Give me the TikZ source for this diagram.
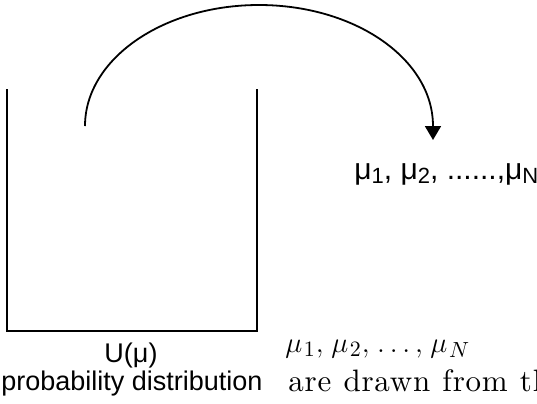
\documentclass[tikz,border=0pt]{standalone}
\usepackage{fontspec}
\newfontfamily\labelfont{Liberation Sans}
\newfontfamily\bookfont{lmroman10-regular.otf}[LetterSpace=2.5, WordSpace=1.1]
\usepackage{tikz}
\usetikzlibrary{arrows.meta, positioning}
\newcommand{\musub}[1]{μ\raisebox{-0.3ex}{\fontsize{11}{12}\selectfont #1}}
\newcommand{\mui}[1]{\mu_{\kern0.8pt #1}}
\tikzset{
  wall/.style={line width=1pt, line cap=butt},
  arr/.style={-{Triangle[length=7pt, width=8pt]}, line width=0.9pt},
  lbl/.style={font=\labelfont\fontsize{13.5}{15}\selectfont, inner sep=0pt},
  txt/.style={font=\bookfont\fontsize{15.5}{18}\selectfont, inner sep=0pt}
}
\begin{document}
\begin{tikzpicture}[x=0.5pt, y=-0.5pt]
  \useasboundingbox (0,0) rectangle (537,403);
  % the box
  \draw[wall] (7,89) -- (7,331) -- (257,331) -- (257,89);
  \coordinate (src) at (85,126);
  \coordinate (tip) at (433,140);
  \node[lbl, anchor=base west, font=\labelfont\fontsize{15}{17}\selectfont] (samples) at (354,179)
    {\musub{1}, \musub{2}, ......,\musub{N}};
  \draw[arr] (src) arc[start angle=180, end angle=360, x radius=174, y radius=121] -- (tip);
  % labels below
  \node[lbl, anchor=base] (dist) at (131,362) {U(μ)};
  \node[lbl, anchor=base] (distname) at (132,390) {probability distribution};
  \node[txt, anchor=base west] (mulist) at (285,352)
    {$\mui{1},\kern1.4pt \mui{2},\kern1.4pt \ldots,\kern1.4pt \mui{N}$};
  \node[txt, anchor=base west] (drawn) at (288,391) {are drawn from th};
\end{tikzpicture}
\end{document}
